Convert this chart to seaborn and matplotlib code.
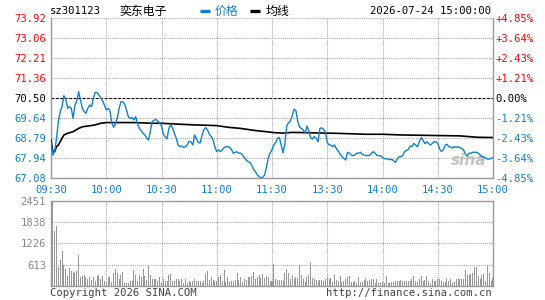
import numpy as np
import pandas as pd
import matplotlib
matplotlib.use("Agg")
import matplotlib.pyplot as plt
import seaborn as sns
from matplotlib.lines import Line2D

# ---------------- data ----------------
stock_code = "sz301123"
stock_name = "奕东电子"
timestamp = "2026-07-24 15:00:00"
pre_close = 70.50

time_labels = ["09:30", "10:00", "10:30", "11:00", "11:30", "13:30", "14:00", "14:30", "15:00"]
price_ticks = [67.08, 67.94, 68.79, 69.64, 70.50, 71.36, 72.21, 73.06, 73.92]
price_tick_labels = ["67.08", "67.94", "68.79", "69.64", "70.50", "71.36", "72.21", "73.06", "73.92"]
pct_tick_labels = ["-4.85%", "-3.64%", "-2.43%", "-1.21%", "0.00%", "+1.21%", "+2.43%", "+3.64%", "+4.85%"]
volume_ticks = [613, 1226, 1838, 2451]
volume_tick_labels = ["613", "1226", "1838", "2451"]

# minute-by-minute price (index 0 = 09:30, 120 = 11:30/13:00, 240 = 15:00)
price = [
    68.63, 68.06, 68.20, 68.78, 69.49, 69.92, 70.13, 70.60, 70.45, 70.06,
    70.13, 70.06, 69.63, 70.20, 70.37, 70.77, 70.42, 70.06, 69.92, 69.85,
    70.06, 70.20, 70.13, 70.49, 70.74, 70.74, 70.63, 70.50, 70.38, 70.20,
    69.99, 70.06, 69.95, 69.45, 69.25, 69.40, 69.65, 70.06, 70.34, 70.34,
    70.23, 69.99, 69.70, 69.63, 69.66, 69.56, 69.70, 69.40, 69.20, 69.10,
    68.99, 68.92, 68.78, 68.71, 69.10, 69.50, 69.55, 69.59, 69.50, 69.45,
    69.30, 68.95, 68.85, 68.75, 69.20, 69.35, 69.22, 68.99, 68.78, 68.49,
    68.42, 68.45, 68.38, 68.42, 68.50, 68.65, 68.63, 68.49, 68.92, 68.75,
    68.60, 68.58, 68.90, 69.15, 69.23, 69.13, 68.95, 68.85, 68.71, 68.40,
    68.21, 68.28, 68.21, 68.28, 68.38, 68.42, 68.42, 68.39, 68.30, 68.14,
    68.18, 68.20, 68.14, 68.14, 68.06, 67.95, 67.85, 67.78, 67.75, 67.62,
    67.45, 67.35, 67.22, 67.14, 67.08, 67.12, 67.21, 67.55, 67.95, 68.15,
    68.28, 68.49, 68.60, 68.78, 68.81, 68.49, 68.16, 68.55, 69.30, 69.45,
    69.50, 69.75, 70.03, 69.95, 69.50, 69.25, 69.20, 69.13, 69.00, 69.30,
    69.10, 68.80, 68.75, 68.85, 68.78, 68.63, 69.20, 69.22, 69.16, 69.05,
    68.60, 68.49, 68.49, 68.42, 68.49, 68.33, 68.23, 68.10, 67.99, 67.92,
    67.85, 68.18, 68.14, 68.06, 68.04, 68.06, 68.14, 68.14, 68.18, 68.09,
    68.06, 68.04, 68.04, 68.04, 68.14, 68.21, 68.14, 68.04, 68.04, 68.03,
    67.96, 67.92, 67.89, 67.90, 67.86, 67.88, 67.82, 67.75, 67.89, 67.99,
    67.99, 68.04, 68.21, 68.26, 68.30, 68.45, 68.42, 68.56, 68.49, 68.42,
    68.63, 68.81, 68.70, 68.55, 68.63, 68.56, 68.49, 68.56, 68.63, 68.63,
    68.56, 68.32, 68.21, 68.28, 68.49, 68.52, 68.42, 68.40, 68.36, 68.42,
    68.38, 68.42, 68.38, 68.35, 68.28, 68.10, 68.02, 68.14, 68.14, 68.18,
    68.18, 68.18, 68.14, 68.06, 67.99, 67.99, 67.92, 67.89, 67.89, 67.92,
    67.95,
]

# average price line, read at knots
avg_minutes = [0, 1, 2, 3, 4, 5, 6, 7, 9, 12, 15, 17, 20, 24, 27, 30, 45, 55, 60, 67,
               78, 90, 96, 103, 109, 113, 117, 121, 126, 131, 155, 171, 180, 190, 222, 232, 240]
avg_price = [68.71, 68.21, 68.21, 68.42, 68.49, 68.63, 68.78, 68.92, 68.99, 69.06,
             69.20, 69.27, 69.30, 69.35, 69.42, 69.45, 69.45, 69.42, 69.42, 69.39,
             69.35, 69.32, 69.25, 69.20, 69.13, 69.09, 69.06, 69.02, 69.00, 69.03,
             68.99, 68.95, 68.95, 68.92, 68.88, 68.82, 68.81]

volume = [
    506, 2451, 1576, 1732, 535, 740, 1002, 603, 486, 302,
    506, 428, 399, 370, 428, 885, 253, 282, 311, 253,
    214, 253, 175, 253, 136, 282, 331, 214, 302, 156,
    117, 253, 253, 117, 389, 486, 389, 195, 311, 399,
    97, 97, 97, 136, 156, 448, 311, 136, 311, 253,
    486, 292, 185, 564, 311, 195, 195, 195, 156, 253,
    97, 214, 156, 156, 311, 360, 156, 156, 214, 214,
    156, 195, 97, 195, 97, 136, 117, 136, 195, 136,
    136, 136, 97, 136, 360, 428, 175, 253, 175, 136,
    136, 272, 311, 136, 448, 117, 272, 117, 156, 156,
    175, 389, 175, 272, 117, 214, 175, 272, 272, 302,
    418, 214, 272, 331, 233, 360, 233, 292, 272, 150,
    150,
    642, 195, 175, 175, 175, 156, 389, 486, 370, 214,
    331, 214, 253, 233, 603, 331, 195, 117, 272, 331,
    681, 233, 195, 175, 136, 175, 175, 136, 195, 253,
    214, 233, 117, 311, 175, 156, 292, 117, 136, 195,
    253, 292, 117, 117, 156, 97, 272, 117, 117, 175,
    233, 156, 175, 195, 214, 97, 214, 97, 78, 117,
    97, 292, 78, 78, 117, 117, 156, 136, 156, 175,
    136, 136, 156, 136, 156, 214, 292, 136, 117, 195,
    292, 156, 175, 292, 136, 97, 214, 136, 156, 195,
    214, 136, 117, 117, 233, 156, 214, 78, 117, 195,
    195, 195, 214, 214, 448, 311, 331, 350, 370, 545,
    545, 292, 195, 311, 350, 136, 564, 370, 136, 250,
]
volume = volume[:241]

minutes = np.arange(len(price))
df = pd.DataFrame({"minute": minutes, "price": price})
df_avg = pd.DataFrame({"minute": avg_minutes, "avg": avg_price})
df_vol = pd.DataFrame({"minute": np.arange(len(volume)), "volume": volume})

# ---------------- style ----------------
BLUE = "#1280d2"
RED = "#ff0000"
GRID = "#a8a8a8"
FRAME = "#999999"
MONO = ["DejaVu Sans Mono"]
CJK = ["Noto Sans CJK SC", "DejaVu Sans"]

sns.set_style("white")
plt.rcParams["font.family"] = ["DejaVu Sans Mono", "Noto Sans CJK SC"]

W, H = 545, 300
fig = plt.figure(figsize=(W / 100, H / 100), dpi=100)


def frac(l, t, r, b):
    return [l / W, 1 - b / H, (r - l) / W, (b - t) / H]


ax = fig.add_axes(frac(51, 18, 493, 178))
axv = fig.add_axes(frac(51, 201, 493, 286))

# ---------------- price panel ----------------
sns.lineplot(data=df, x="minute", y="price", ax=ax, color=BLUE, linewidth=1.0,
             estimator=None, legend=False, zorder=4)
sns.lineplot(data=df_avg, x="minute", y="avg", ax=ax, color="black", linewidth=1.2,
             estimator=None, legend=False, zorder=3)
ax.axhline(pre_close, color="black", linewidth=0.8, linestyle=(0, (2.5, 1.5)), zorder=2)

ax.set_xlim(0, 240)
ax.set_ylim(price_ticks[0], price_ticks[-1])
ax.set_xticks(np.arange(0, 241, 30))
ax.set_xticklabels(time_labels)
ax.set_yticks(price_ticks)
ax.set_yticklabels(price_tick_labels)
ax.set_xlabel("")
ax.set_ylabel("")
ax.grid(True, color=GRID, linestyle=(0, (1, 1)), linewidth=0.75, zorder=1)
ax.tick_params(axis="both", length=0, labelsize=7.6)
ax.tick_params(axis="y", pad=3.5)
ax.tick_params(axis="x", pad=5, colors=BLUE)
for lab, v in zip(ax.get_yticklabels(), price_ticks):
    lab.set_color(RED if v > pre_close + 1e-6 else ("black" if abs(v - pre_close) < 1e-6 else BLUE))

ax.spines["top"].set_visible(False)
for s in ["left", "right", "bottom"]:
    ax.spines[s].set_color(FRAME)
    ax.spines[s].set_linewidth(1.0)

ax2 = ax.twinx()
ax2.set_ylim(price_ticks[0], price_ticks[-1])
ax2.set_yticks(price_ticks)
ax2.set_yticklabels(pct_tick_labels)
ax2.tick_params(axis="y", length=0, labelsize=7.6, pad=1.5)
for lab, v in zip(ax2.get_yticklabels(), price_ticks):
    lab.set_color(RED if v > pre_close + 1e-6 else ("black" if abs(v - pre_close) < 1e-6 else BLUE))
for s in ax2.spines.values():
    s.set_visible(False)

ax.text(0.985, 0.11, "sina", transform=ax.transAxes, ha="right", va="center",
        fontsize=11, fontstyle="italic", fontweight="bold", color="#c4c4c4",
        family=["DejaVu Sans"], zorder=0)

# ---------------- volume panel ----------------
axv.bar(df_vol["minute"], df_vol["volume"], width=0.55, color="#999999", linewidth=0,
        antialiased=False, zorder=3)
axv.set_xlim(0, 240)
axv.set_ylim(0, volume_ticks[-1])
axv.set_xticks(np.arange(0, 241, 30))
axv.set_xticklabels([])
axv.set_yticks(volume_ticks)
axv.set_yticklabels(volume_tick_labels)
axv.grid(True, color=GRID, linestyle=(0, (1, 1)), linewidth=0.75, zorder=1)
axv.tick_params(axis="both", length=0, labelsize=7.6)
axv.tick_params(axis="y", pad=3.5, colors="#888888")
for s in axv.spines.values():
    s.set_color(FRAME)
    s.set_linewidth(1.0)

# ---------------- header / footer ----------------
ty = 1 - 11.5 / H
fig.text(50 / W, ty, stock_code, fontsize=7.6, va="center", ha="left", color="black", family=MONO)
fig.text(120 / W, ty, stock_name, fontsize=8.6, va="center", ha="left", color="black", family=CJK)
fig.add_artist(Line2D([200 / W, 210 / W], [1 - 10.5 / H] * 2, transform=fig.transFigure,
                      color=BLUE, linewidth=2.4, solid_capstyle="butt"))
fig.text(215 / W, ty, "价格", fontsize=8.6, va="center", ha="left", color=BLUE, family=CJK)
fig.add_artist(Line2D([250 / W, 260 / W], [1 - 10.5 / H] * 2, transform=fig.transFigure,
                      color="black", linewidth=2.4, solid_capstyle="butt"))
fig.text(266 / W, ty, "均线", fontsize=8.6, va="center", ha="left", color="black", family=CJK)
fig.text(491 / W, ty, timestamp, fontsize=7.6, va="center", ha="right", color="black", family=MONO)

fy = 1 - 293 / H
fig.text(50 / W, fy, "Copyright 2026 SINA.COM", fontsize=7.6, va="center", ha="left",
         color="#444444", family=MONO)
fig.text(492 / W, fy, "http://finance.sina.com.cn", fontsize=7.6, va="center", ha="right",
         color="#444444", family=MONO)

fig.savefig("out.png", dpi=100, facecolor="white")
